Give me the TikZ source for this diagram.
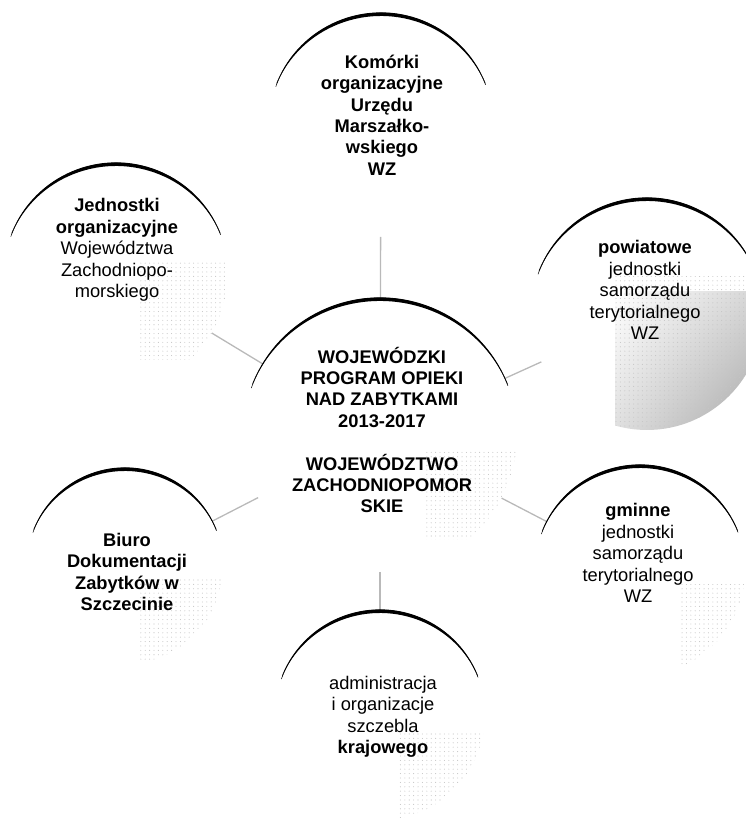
\documentclass[tikz,border=0pt]{standalone}
\usepackage{fontspec}
\setmainfont{Liberation Sans}
\usetikzlibrary{patterns,patterns.meta,shadings}
\tikzdeclarepattern{
  name=sparsedots,
  type=uncolored,
  bounding box={(-1pt,-1pt) and (1pt,1pt)},
  tile size={(4.4pt,4.4pt)},
  code={\fill (0pt,0pt) circle[radius=0.55pt];}
}
\tikzset{
  circ/.style={circle, draw=none, minimum size=#1, inner sep=0pt, outer sep=0pt},
  lbl/.style={align=center, inner sep=0pt, font=\fontsize{18.3}{21.4}\selectfont},
  conn/.style={draw=gray!55, line width=1.3pt},
  stip/.style={pattern=sparsedots, pattern color=gray!45},
}
\newcommand\taperarc[2]{%
  \pgfmathsetmacro\tro{#2+0.6}%
  \pgfmathsetmacro\trix{#2+0.55}%
  \pgfmathsetmacro\triy{#2-3.0}%
  \fill[black] ([shift={(158:\tro pt)}]#1.center) arc[start angle=158, end angle=22, radius=\tro pt]
    -- ([shift={(22:\trix pt and \triy pt)}]#1.center) arc[start angle=22, end angle=158, x radius=\trix pt, y radius=\triy pt] -- cycle;
  \draw[black, line width=0.5pt] ([shift={(160:#2pt)}]#1.center) arc[start angle=160, end angle=21, radius=#2pt];
}
\begin{document}
\begin{tikzpicture}[x=1pt, y=1pt]
\useasboundingbox (0,0) rectangle (746,822);
% circles (invisible bodies)
\node[circ=224pt] (cT)  at (381,697) {};
\node[circ=224pt] (cLT) at (116,547) {};
\node[circ=232pt] (cRT) at (647,508) {};
\node[circ=274pt] (cC)  at (380,387) {};
\node[circ=196pt] (cBL) at (125,256) {};
\node[circ=210pt] (cBR) at (640,252) {};
\node[circ=210pt] (cB)  at (380,107) {};
% stippled shading
\begin{scope}
  \clip (cLT.center) circle[radius=112pt];
  \fill[stip] (140,462) rectangle (235,560);
\end{scope}
\begin{scope}
  \clip (cRT.center) circle[radius=116pt];
  \shade[upper left=white, upper right=gray!30, lower left=gray!25, lower right=gray!65] (615,392) rectangle (746,530);
  \fill[stip] (615,392) rectangle (746,545);
\end{scope}
\begin{scope}
  \clip (cC.center) circle[radius=137pt];
  \fill[stip] (425,282) rectangle (530,372);
\end{scope}
\begin{scope}
  \clip (cBL.center) circle[radius=98pt];
  \fill[stip] (140,152) rectangle (225,242);
\end{scope}
\begin{scope}
  \clip (cBR.center) circle[radius=105pt];
  \fill[stip] (680,155) rectangle (746,237);
\end{scope}
\begin{scope}
  \clip (cB.center) circle[radius=105pt];
  \fill[stip] (397,2) rectangle (502,90);
\end{scope}
% connectors
\draw[conn] (cC) -- (cT);
\draw[conn] (cC) -- (cLT);
\draw[conn] (cC) -- (cRT);
\draw[conn] (cC) -- (cBL);
\draw[conn] (cC) -- (cBR);
\draw[conn] (cC) -- (cB);
% arcs
\taperarc{cT}{112}
\taperarc{cLT}{112}
\taperarc{cRT}{116}
\taperarc{cC}{137}
\taperarc{cBL}{98}
\taperarc{cBR}{105}
\taperarc{cB}{105}
% texts
\node[lbl, font=\fontsize{18.3}{21.4}\selectfont\bfseries] (tT) at (382,707)
  {Komórki\\organizacyjne\\Urzędu\\Marszałko-\\wskiego\\WZ};
\node[lbl] (tLT) at (117,572)
  {\textbf{Jednostki}\\\textbf{organizacyjne}\\Województwa\\Zachodniopo-\\morskiego};
\node[lbl] (tRT) at (645,532)
  {\textbf{powiatowe}\\jednostki\\samorządu\\terytorialnego\\WZ};
\node[lbl, font=\fontsize{18.3}{21.4}\selectfont\bfseries] (tC) at (382,392)
  {WOJEWÓDZKI\\PROGRAM OPIEKI\\NAD ZABYTKAMI\\2013-2017\\[21.4pt]WOJEWÓDZTWO\\ZACHODNIOPOMOR\\SKIE};
\node[lbl, font=\fontsize{18.3}{21.4}\selectfont\bfseries] (tBL) at (127,250)
  {Biuro\\Dokumentacji\\Zabytków w\\Szczecinie};
\node[lbl] (tBR) at (638,269)
  {\textbf{gminne}\\jednostki\\samorządu\\terytorialnego\\WZ};
\node[lbl] (tB) at (383,105)
  {administracja\\i organizacje\\szczebla\\\textbf{krajowego}};
\end{tikzpicture}
\end{document}
